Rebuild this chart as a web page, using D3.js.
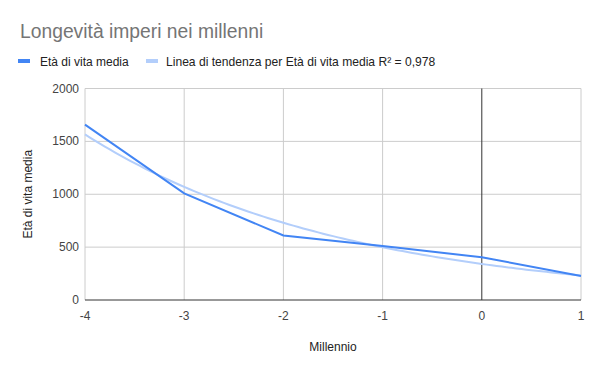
<!DOCTYPE html>
<html>
<head>
<meta charset="utf-8">
<script src="https://cdn.jsdelivr.net/npm/d3@7"></script>
<style>
  body { margin: 0; background: #fff; }
  text { font-family: Arial, "Liberation Sans", sans-serif; }
</style>
</head>
<body>
<svg id="chart" width="600" height="371"></svg>
<script>
var millennia = [-4, -3, -2, -1, 0, 1];
var lifespan = [1658, 1009, 610, 510, 404, 227];
var yTicks = [0, 500, 1000, 1500, 2000];
var xTicks = [-4, -3, -2, -1, 0, 1];
var seriesName = 'Età di vita media';
var trendName = 'Linea di tendenza per Età di vita media R² = 0,978';

var svg = d3.select('#chart');
var pLeft = 85, pRight = 581, pTop = 88.5, pBottom = 300;

var x = d3.scaleLinear().domain([-4, 1]).range([pLeft, pRight]);
var y = d3.scaleLinear().domain([0, 2000]).range([pBottom, pTop]);

// exponential trendline y = exp(a + b*x), least squares on ln(y) weighted by y
var lnY = lifespan.map(v => Math.log(v));
var w = lifespan;
var sw = d3.sum(w);
var mx = d3.sum(millennia, (v, i) => w[i] * v) / sw;
var my = d3.sum(lnY, (v, i) => w[i] * v) / sw;
var b = d3.sum(millennia, (v, i) => w[i] * (v - mx) * (lnY[i] - my)) /
	d3.sum(millennia, (v, i) => w[i] * (v - mx) * (v - mx));
var a = my - b * mx;
var trendX = d3.range(-4, 1.001, 0.05);

// title
svg.append('text').attr('x', 20).attr('y', 38)
	.attr('font-size', 19.3).attr('fill', '#757575')
	.text('Longevità imperi nei millenni');

// legend
svg.append('rect').attr('x', 18).attr('y', 59).attr('width', 12).attr('height', 4).attr('fill', '#4285f4');
svg.append('text').attr('x', 40).attr('y', 65.5).attr('font-size', 12).attr('fill', '#222').text(seriesName);
svg.append('rect').attr('x', 146).attr('y', 59).attr('width', 12).attr('height', 4).attr('fill', '#b3cefb');
svg.append('text').attr('x', 166).attr('y', 65.5).attr('font-size', 12.1).attr('fill', '#222').text(trendName);

// gridlines
svg.append('g').selectAll('line').data(yTicks.filter(d => d > 0)).enter().append('line')
	.attr('x1', pLeft).attr('x2', pRight)
	.attr('y1', d => y(d)).attr('y2', d => y(d))
	.attr('stroke', '#cccccc').attr('stroke-width', 1);
svg.append('g').selectAll('line').data(xTicks.filter(d => d != 0)).enter().append('line')
	.attr('x1', d => x(d)).attr('x2', d => x(d))
	.attr('y1', pTop).attr('y2', pBottom)
	.attr('stroke', '#cccccc').attr('stroke-width', 1);

// zero lines
svg.append('line').attr('x1', x(0)).attr('x2', x(0)).attr('y1', pTop).attr('y2', pBottom)
	.attr('stroke', '#333').attr('stroke-width', 1);
svg.append('line').attr('x1', pLeft).attr('x2', pRight).attr('y1', y(0)).attr('y2', y(0))
	.attr('stroke', '#333').attr('stroke-width', 1);

// tick labels
svg.append('g').selectAll('text').data(yTicks).enter().append('text')
	.attr('x', pLeft - 6).attr('y', d => y(d) + 4)
	.attr('text-anchor', 'end').attr('font-size', 12).attr('fill', '#444')
	.text(d => d);
svg.append('g').selectAll('text').data(xTicks).enter().append('text')
	.attr('x', d => x(d)).attr('y', pBottom + 20)
	.attr('text-anchor', 'middle').attr('font-size', 12).attr('fill', '#444')
	.text(d => d);

// axis titles
svg.append('text').attr('x', 333).attr('y', 351)
	.attr('text-anchor', 'middle').attr('font-size', 12).attr('fill', '#222').text('Millennio');
svg.append('text').attr('transform', 'translate(32,' + ((pTop + pBottom) / 2) + ') rotate(-90)')
	.attr('text-anchor', 'middle').attr('font-size', 12).attr('fill', '#222').text(seriesName);

var line = d3.line().x(d => x(d[0])).y(d => y(d[1]));

// trendline
svg.append('path').datum(trendX.map(t => [t, Math.exp(a + b * t)]))
	.attr('d', line).attr('fill', 'none')
	.attr('stroke', '#b3cefb').attr('stroke-width', 2);

// data series
svg.append('path').datum(millennia.map((m, i) => [m, lifespan[i]]))
	.attr('d', line).attr('fill', 'none')
	.attr('stroke', '#4285f4').attr('stroke-width', 2);
</script>
</body>
</html>
